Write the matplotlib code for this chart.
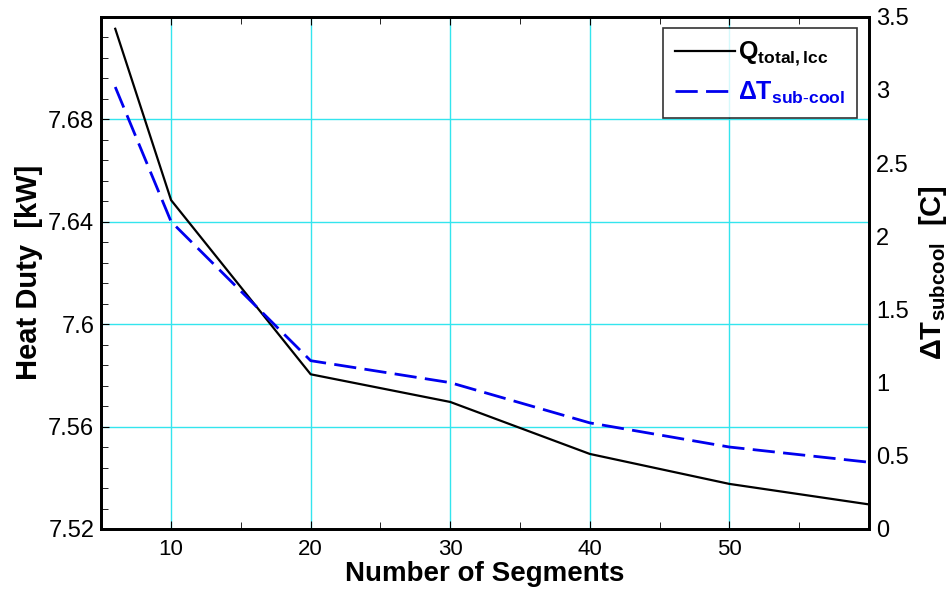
import matplotlib
matplotlib.use("Agg")
import matplotlib.pyplot as plt
from matplotlib.ticker import MultipleLocator, AutoMinorLocator

# datos
segmentos = [6, 10, 20, 30, 40, 50, 60]
q_total = [7.7153, 7.6484, 7.5804, 7.5696, 7.5493, 7.5376, 7.5296]
dt_subcool = [3.02, 2.10, 1.15, 1.00, 0.725, 0.56, 0.456]

x_ticks = [10, 20, 30, 40, 50]
y_ticks = [7.52, 7.56, 7.60, 7.64, 7.68]
y_tick_labels = ["7.52", "7.56", "7.6", "7.64", "7.68"]
y2_ticks = [0, 0.5, 1, 1.5, 2, 2.5, 3, 3.5]
y2_tick_labels = ["0", "0.5", "1", "1.5", "2", "2.5", "3", "3.5"]

plt.rcParams["font.family"] = ["Liberation Sans", "DejaVu Sans"]
plt.rcParams["mathtext.fontset"] = "custom"
plt.rcParams["mathtext.rm"] = "Liberation Sans"
plt.rcParams["mathtext.it"] = "Liberation Sans"
plt.rcParams["mathtext.bf"] = "Liberation Sans:bold"

fig = plt.figure(figsize=(9.52, 5.98), dpi=100)
ax = fig.add_axes([0.1064, 0.1154, 0.8064, 0.8566])
ax2 = ax.twinx()

grid_col = "#33e5ee"
ax.set_xlim(5, 60)
ax.set_ylim(7.52, 7.72)
ax.set_xticks(x_ticks)
ax.set_yticks(y_ticks)
ax.set_yticklabels(y_tick_labels)
ax.xaxis.set_minor_locator(MultipleLocator(5))
ax.yaxis.set_minor_locator(AutoMinorLocator(5))
ax.grid(True, which="major", color=grid_col, linewidth=1.0)
ax.set_axisbelow(True)
ax.tick_params(axis="both", which="both", direction="in", labelsize=17)
ax.tick_params(axis="x", which="both", top=True, pad=7, labelsize=16)
ax.tick_params(axis="y", pad=5)
ax.tick_params(which="major", length=6)
ax.tick_params(which="minor", length=5)

l1, = ax.plot(segmentos, q_total, color="black", linewidth=1.6,
              label=r"$\mathbf{Q_{total,lcc}}$")

ax2.set_ylim(0, 3.5)
ax2.set_yticks(y2_ticks)
ax2.set_yticklabels(y2_tick_labels)
ax2.tick_params(axis="y", direction="in", length=0, labelsize=17, pad=5)
l2, = ax2.plot(segmentos, dt_subcool, color="#0000ee", linewidth=2.0,
               dashes=(8, 3), label=r"$\mathbf{\Delta T_{sub\text{-}cool}}$")

for a in (ax, ax2):
    for s in a.spines.values():
        s.set_linewidth(2.0)

ax.set_xlabel("Number of Segments", fontsize=20, fontweight="bold", labelpad=1)
ax.set_ylabel("Heat Duty  [kW]", fontsize=21, fontweight="bold", labelpad=4)
ax2.set_ylabel(r"$\mathbf{\Delta T_{subcool}}$  [C]", fontsize=21,
               fontweight="bold", labelpad=6)

leg = ax.legend(handles=[l1, l2], loc="upper right", bbox_to_anchor=(0.985, 0.979),
                fontsize=18, frameon=True, fancybox=False, handlelength=2.4,
                handletextpad=0.1, borderpad=0.5, labelspacing=0.45,
                borderaxespad=0)
leg.get_frame().set_edgecolor("black")
leg.get_frame().set_linewidth(1.2)
leg.get_texts()[1].set_color("#0000ee")

fig.savefig("out.png", dpi=100)
